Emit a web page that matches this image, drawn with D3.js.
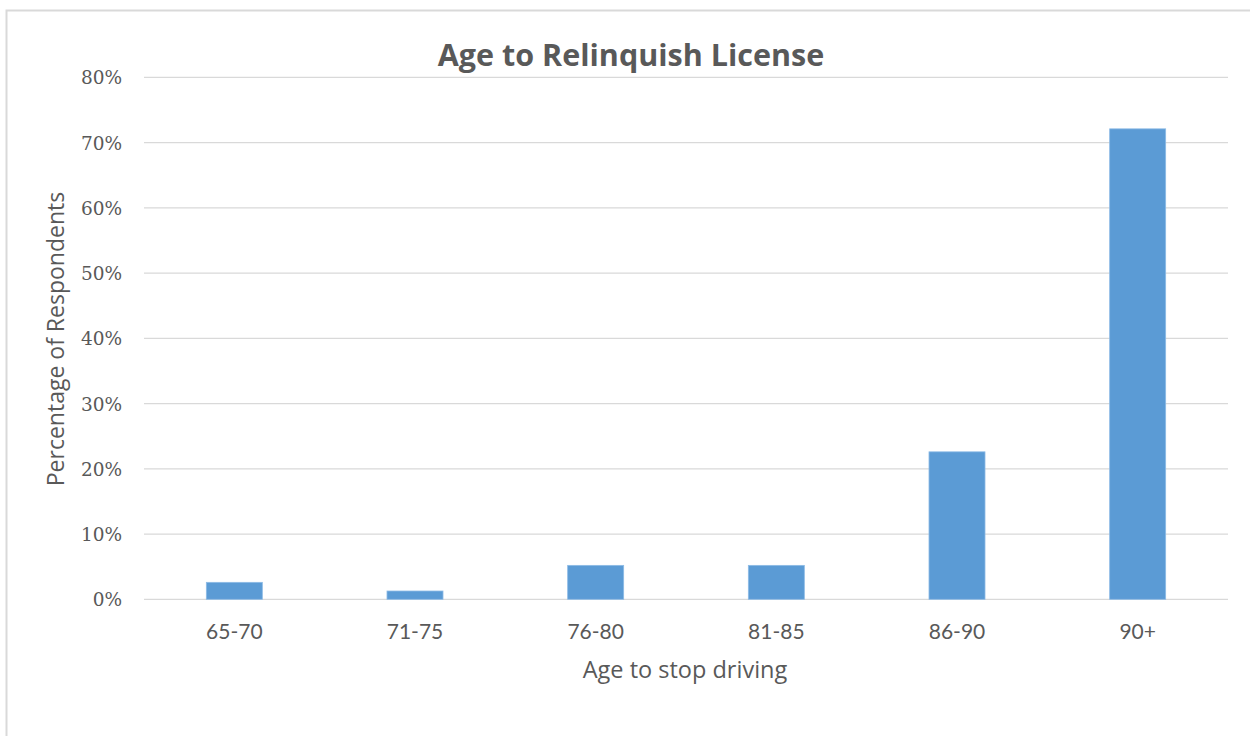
<!DOCTYPE html>
<html>
<head>
<meta charset="utf-8">
<script src="https://cdn.jsdelivr.net/npm/d3@7"></script>
<style>
  html, body { margin: 0; padding: 0; background: #ffffff; }
  svg { display: block; }
</style>
</head>
<body>
<svg id="chart" width="1250" height="736"></svg>
<script>
// Survey results: age at which respondents would give up their licence
const categories = ["65-70", "71-75", "76-80", "81-85", "86-90", "90+"];
const shares = [0.026, 0.0127, 0.052, 0.052, 0.226, 0.721];
const yTicks = [0, 0.1, 0.2, 0.3, 0.4, 0.5, 0.6, 0.7, 0.8];

const chartTitle = "Age to Relinquish License";
const xTitle = "Age to stop driving";
const yTitle = "Percentage of Respondents";

const svg = d3.select("#chart");
const W = 1250, H = 736;
const plot = { left: 144, right: 1228, top: 77.3, bottom: 599.3 };

const textGray = "#595959";
const gridGray = "#d9d9d9";
const barBlue = "#5b9bd5";

// outer chart frame (top and left edges visible)
svg.append("rect")
  .attr("x", 6.5).attr("y", 10.5)
  .attr("width", W + 10).attr("height", H + 10)
  .attr("fill", "#ffffff")
  .attr("stroke", "#d9d9d9")
  .attr("stroke-width", 2);

const x = d3.scaleBand()
  .domain(categories)
  .range([plot.left, plot.right])
  .paddingInner(0.69)
  .paddingOuter(0.345);

const y = d3.scaleLinear()
  .domain([0, 0.8])
  .range([plot.bottom, plot.top]);

// horizontal gridlines
svg.append("g")
  .selectAll("line")
  .data(yTicks)
  .join("line")
  .attr("x1", plot.left).attr("x2", plot.right)
  .attr("y1", d => y(d)).attr("y2", d => y(d))
  .attr("stroke", gridGray)
  .attr("stroke-width", 1.3);

// y axis labels
const yAxis = d3.axisLeft(y)
  .tickValues(yTicks)
  .tickFormat(d3.format(".0%"))
  .tickSize(0)
  .tickPadding(0);

svg.append("g")
  .attr("transform", `translate(122,0)`)
  .call(yAxis)
  .call(g => g.select(".domain").remove())
  .call(g => g.selectAll("text")
    .attr("fill", textGray)
    .attr("dy", "0.36em")
    .style("font-family", "'DejaVu Serif', serif")
    .style("font-size", "18.5px"));

// bars
svg.append("g")
  .selectAll("rect")
  .data(categories.map((c, i) => ({ c, v: shares[i] })))
  .join("rect")
  .attr("x", d => x(d.c))
  .attr("width", x.bandwidth())
  .attr("y", d => y(d.v))
  .attr("height", d => y(0) - y(d.v))
  .attr("fill", barBlue)
  .attr("stroke", "#8dbbe6")
  .attr("stroke-width", 0.8);

// x axis labels
const xAxis = d3.axisBottom(x).tickSize(0).tickPadding(0);
svg.append("g")
  .attr("transform", `translate(0,${plot.bottom})`)
  .call(xAxis)
  .call(g => g.select(".domain").remove())
  .call(g => g.selectAll("text")
    .attr("fill", textGray)
    .attr("y", 39.5)
    .attr("dy", 0)
    .style("font-family", "Lato, sans-serif")
    .style("font-size", "21px"));

// titles
svg.append("text")
  .attr("x", 631).attr("y", 66)
  .attr("text-anchor", "middle")
  .attr("fill", textGray)
  .style("font-family", "'Open Sans', sans-serif")
  .style("font-weight", "bold")
  .style("font-size", "30.5px")
  .text(chartTitle);

svg.append("text")
  .attr("x", 685).attr("y", 678)
  .attr("text-anchor", "middle")
  .attr("fill", textGray)
  .style("font-family", "'Open Sans', sans-serif")
  .style("font-size", "23.5px")
  .text(xTitle);

svg.append("text")
  .attr("transform", "translate(64,339) rotate(-90)")
  .attr("text-anchor", "middle")
  .attr("fill", textGray)
  .style("font-family", "'Open Sans', sans-serif")
  .style("font-size", "23px")
  .text(yTitle);
</script>
</body>
</html>
